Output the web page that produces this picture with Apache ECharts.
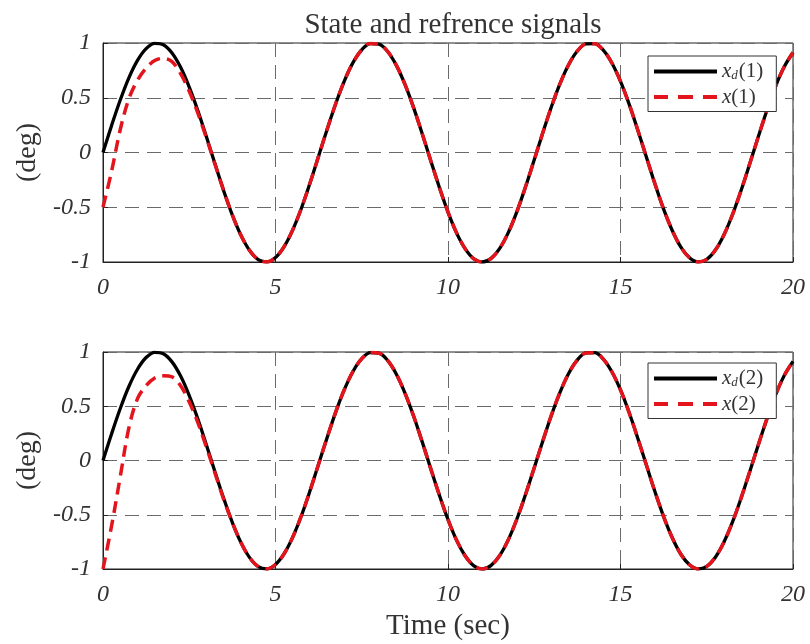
<!DOCTYPE html>
<html>
<head>
<meta charset="utf-8">
<script src="https://cdn.jsdelivr.net/npm/echarts@6/dist/echarts.min.js"></script>
<style>
  html, body { margin: 0; padding: 0; background: #fff; }
  #chart { width: 810px; height: 644px; }
</style>
</head>
<body>
<div id="chart"></div>
<script>
// Sample times (sec)
const timeSec = [
  0, 0.25, 0.5, 0.75, 1, 1.25, 1.5, 1.75, 2, 2.25, 2.5, 2.75, 3, 3.25, 3.5, 3.75,
  4, 4.25, 4.5, 4.75, 5, 5.25, 5.5, 5.75, 6, 6.25, 6.5, 6.75, 7, 7.25, 7.5, 7.75,
  8, 8.25, 8.5, 8.75, 9, 9.25, 9.5, 9.75, 10, 10.25, 10.5, 10.75, 11, 11.25, 11.5, 11.75,
  12, 12.25, 12.5, 12.75, 13, 13.25, 13.5, 13.75, 14, 14.25, 14.5, 14.75, 15, 15.25, 15.5, 15.75,
  16, 16.25, 16.5, 16.75, 17, 17.25, 17.5, 17.75, 18, 18.25, 18.5, 18.75, 19, 19.25, 19.5, 19.75, 20
];

// Reference signal (same for both states)
const refSignal = [
  0.000, 0.247, 0.479, 0.682, 0.841, 0.949, 0.997, 0.984, 0.909, 0.778, 0.598, 0.382, 0.141, -0.108, -0.351, -0.572,
  -0.757, -0.895, -0.978, -0.999, -0.959, -0.859, -0.706, -0.509, -0.279, -0.033, 0.215, 0.450, 0.657, 0.823, 0.938, 0.995,
  0.989, 0.923, 0.798, 0.624, 0.412, 0.174, -0.075, -0.319, -0.544, -0.736, -0.880, -0.971, -1.000, -0.967, -0.875, -0.729,
  -0.537, -0.311, -0.066, 0.182, 0.420, 0.631, 0.804, 0.927, 0.991, 0.994, 0.935, 0.818, 0.650, 0.442, 0.206, -0.042,
  -0.288, -0.517, -0.712, -0.864, -0.961, -0.999, -0.976, -0.891, -0.751, -0.564, -0.342, -0.099, 0.150, 0.390, 0.609, 0.785, 0.913
];

// State 1
const state1 = [
  -0.500, -0.170, 0.210, 0.490, 0.660, 0.770, 0.840, 0.860, 0.830, 0.720, 0.560, 0.360, 0.130, -0.110, -0.350, -0.572,
  -0.757, -0.895, -0.978, -0.999, -0.959, -0.859, -0.706, -0.509, -0.279, -0.033, 0.215, 0.450, 0.657, 0.823, 0.938, 0.995,
  0.989, 0.923, 0.798, 0.624, 0.412, 0.174, -0.075, -0.319, -0.544, -0.736, -0.880, -0.971, -1.000, -0.967, -0.875, -0.729,
  -0.537, -0.311, -0.066, 0.182, 0.420, 0.631, 0.804, 0.927, 0.991, 0.994, 0.935, 0.818, 0.650, 0.442, 0.206, -0.042,
  -0.288, -0.517, -0.712, -0.864, -0.961, -0.999, -0.976, -0.891, -0.751, -0.564, -0.342, -0.099, 0.150, 0.390, 0.609, 0.785, 0.913
];

// State 2
const state2 = [
  -1.000, -0.600, -0.150, 0.300, 0.570, 0.690, 0.760, 0.780, 0.770, 0.690, 0.540, 0.350, 0.120, -0.120, -0.360, -0.572,
  -0.757, -0.895, -0.978, -0.999, -0.959, -0.859, -0.706, -0.509, -0.279, -0.033, 0.215, 0.450, 0.657, 0.823, 0.938, 0.995,
  0.989, 0.923, 0.798, 0.624, 0.412, 0.174, -0.075, -0.319, -0.544, -0.736, -0.880, -0.971, -1.000, -0.967, -0.875, -0.729,
  -0.537, -0.311, -0.066, 0.182, 0.420, 0.631, 0.804, 0.927, 0.991, 0.994, 0.935, 0.818, 0.650, 0.442, 0.206, -0.042,
  -0.288, -0.517, -0.712, -0.864, -0.961, -0.999, -0.976, -0.891, -0.751, -0.564, -0.342, -0.099, 0.150, 0.390, 0.609, 0.785, 0.913
];

const xTicks = [0, 5, 10, 15, 20];
const yTicks = [-1, -0.5, 0, 0.5, 1];

const SERIF = '"Liberation Serif", serif';
const RED = '#e4141d';

const pairs = (ys) => timeSec.map((t, i) => [t, ys[i]]);

const legendRich = {
  v: { fontFamily: SERIF, fontStyle: 'italic', fontSize: 21, color: '#333' },
  sub: { fontFamily: SERIF, fontStyle: 'italic', fontSize: 13, color: '#333', verticalAlign: 'bottom', padding: [9, 1, 0, 0] },
  n: { fontFamily: SERIF, fontSize: 21, color: '#333' }
};
const legendText = {
  xd1: '{v|x}{sub|d}{n|(1)}', x1: '{v|x}{n|(1)}',
  xd2: '{v|x}{sub|d}{n|(2)}', x2: '{v|x}{n|(2)}'
};
// Legend glyphs: a solid bar and a three-dash bar
const SOLID_ICON = 'path://M0,0H63V4H0Z';
const DASH_ICON = 'path://M0,0H14V4H0Z M24,0H39V4H24Z M49,0H63V4H49Z';

const gridLine = { show: true, lineStyle: { color: '#6a6a6a', width: 1, type: [14, 8] } };
const tickLabel = { fontFamily: SERIF, fontStyle: 'italic', fontSize: 24, color: '#333' };

function makeXAxis(gridIndex) {
  return {
    type: 'value', gridIndex, min: 0, max: 20, interval: 5,
    axisLine: { show: true, onZero: false, lineStyle: { color: '#222', width: 1 } },
    axisTick: { show: true, inside: true, length: 5, lineStyle: { color: '#222' } },
    axisLabel: Object.assign({ margin: 14, formatter: (v) => String(v) }, tickLabel),
    splitLine: gridLine
  };
}
function makeYAxis(gridIndex) {
  return {
    type: 'value', gridIndex, min: -1, max: 1, interval: 0.5,
    name: '(deg)', nameLocation: 'middle', nameGap: 60, nameRotate: 90,
    nameTextStyle: { fontFamily: SERIF, fontSize: 28, color: '#333' },
    axisLine: { show: true, onZero: false, lineStyle: { color: '#222', width: 1 } },
    axisTick: { show: true, inside: true, length: 5, lineStyle: { color: '#222' } },
    axisLabel: Object.assign({ margin: 12, formatter: (v) => String(v) }, tickLabel),
    splitLine: gridLine
  };
}
function makeLegend(top, names) {
  return {
    orient: 'vertical', left: 648, top,
    data: [{ name: names[0], icon: SOLID_ICON }, { name: names[1], icon: DASH_ICON }],
    symbolKeepAspect: false,
    itemWidth: 63, itemHeight: 4, itemGap: 4, itemTextGap: 6,
    padding: [5, 13, 4, 6],
    backgroundColor: '#fff', borderColor: '#333', borderWidth: 1,
    formatter: (name) => legendText[name],
    textStyle: { rich: legendRich }
  };
}
function lineSeries(name, idx, ys, solid) {
  return {
    name, type: 'line', xAxisIndex: idx, yAxisIndex: idx,
    data: pairs(ys), smooth: 0.35, symbol: 'none', z: solid ? 2 : 3,
    lineStyle: solid
      ? { color: '#000', width: 3.3 }
      : { color: RED, width: 3.5, type: [12, 7] },
    itemStyle: { color: solid ? '#000' : RED }
  };
}

const chart = echarts.init(document.getElementById('chart'), null, { renderer: 'canvas' });
chart.setOption({
  animation: false,
  backgroundColor: '#fff',
  title: {
    text: 'State and refrence signals', left: 448, top: 6, textAlign: 'center',
    textStyle: { fontFamily: SERIF, fontWeight: 'normal', fontSize: 29, color: '#333' }
  },
  grid: [
    { left: 103, top: 43, width: 690, height: 219, show: true, borderColor: '#222', borderWidth: 1, backgroundColor: 'transparent' },
    { left: 103, top: 352, width: 690, height: 217, show: true, borderColor: '#222', borderWidth: 1, backgroundColor: 'transparent' }
  ],
  xAxis: [
    makeXAxis(0),
    Object.assign(makeXAxis(1), {
      name: 'Time (sec)', nameLocation: 'middle', nameGap: 43,
      nameTextStyle: { fontFamily: SERIF, fontSize: 29, color: '#333' }
    })
  ],
  yAxis: [makeYAxis(0), makeYAxis(1)],
  legend: [makeLegend(56, ['xd1', 'x1']), makeLegend(363, ['xd2', 'x2'])],
  series: [
    lineSeries('xd1', 0, refSignal, true),
    lineSeries('x1', 0, state1, false),
    lineSeries('xd2', 1, refSignal, true),
    lineSeries('x2', 1, state2, false)
  ]
});
</script>
</body>
</html>
